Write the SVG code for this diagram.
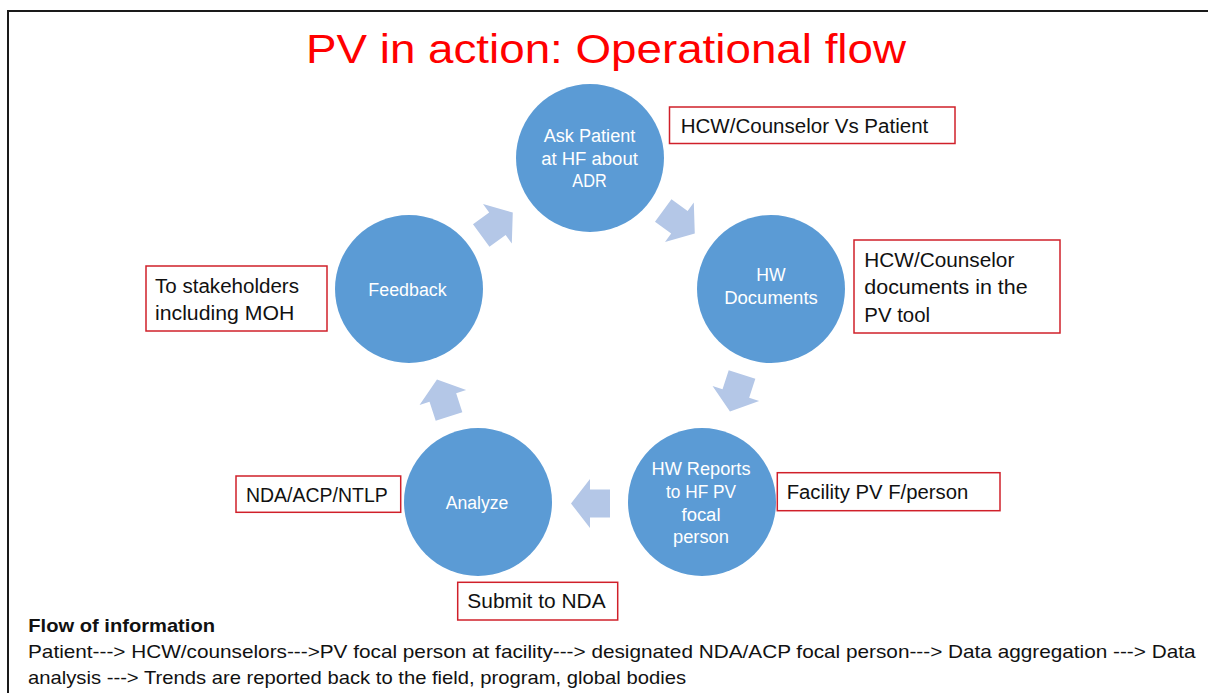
<svg xmlns="http://www.w3.org/2000/svg" xmlns:xlink="http://www.w3.org/1999/xlink" width="1208" height="693" viewBox="0 0 1208 693">
<style>
.node circle{fill:#5B9BD5}
.node text{fill:#FFFFFF;font-family:"Liberation Sans",Arial,sans-serif;font-size:18px;text-anchor:middle}
.box rect{fill:#FFFFFF;stroke:#D0202A;stroke-width:1.5}
.box text{fill:#111111;font-family:"Liberation Sans",Arial,sans-serif;font-size:20px}
.arr{fill:#B4C7E7}
.foot{fill:#111111;font-family:"Liberation Sans",Arial,sans-serif;font-size:19px}
</style>
<defs>
<polygon id="arrow" points="-19.5,-14 0.5,-14 0.5,-24.5 19.5,0 0.5,24.5 0.5,14 -19.5,14"/>
</defs>
<rect x="0" y="0" width="1208" height="693" fill="#FFFFFF"/>
<path d="M8 693 V11 H1208" fill="none" stroke="#1A1A1A" stroke-width="2"/>
<text id="title" x="306" y="63" textLength="600" lengthAdjust="spacingAndGlyphs" fill="#FF0000" font-family="Liberation Sans, Arial, sans-serif" font-size="40">PV in action: Operational flow</text>

<g id="connectors" class="arr">
<use xlink:href="#arrow" href="#arrow" transform="translate(497,224) rotate(-36)"/>
<use xlink:href="#arrow" href="#arrow" transform="translate(679,222) rotate(36)"/>
<use xlink:href="#arrow" href="#arrow" transform="translate(736,393) rotate(108)"/>
<use xlink:href="#arrow" href="#arrow" transform="translate(590.5,503.5) rotate(180)"/>
<use xlink:href="#arrow" href="#arrow" transform="translate(443,398) rotate(252)"/>
</g>

<g id="node-ask" class="node">
<circle cx="590" cy="158" r="74"/>
<text x="589.5" y="141.7" textLength="91.7" lengthAdjust="spacingAndGlyphs">Ask Patient</text>
<text x="589.5" y="164.5" textLength="96.7" lengthAdjust="spacingAndGlyphs">at HF about</text>
<text x="589.5" y="187.3" textLength="34.3" lengthAdjust="spacingAndGlyphs">ADR</text>
</g>
<g id="node-documents" class="node">
<circle cx="771" cy="289" r="74"/>
<text x="771" y="281" textLength="29.3" lengthAdjust="spacingAndGlyphs">HW</text>
<text x="771" y="304" textLength="93.7" lengthAdjust="spacingAndGlyphs">Documents</text>
</g>
<g id="node-reports" class="node">
<circle cx="702" cy="502" r="74"/>
<text x="701" y="475" textLength="99" lengthAdjust="spacingAndGlyphs">HW Reports</text>
<text x="701" y="497.5" textLength="70" lengthAdjust="spacingAndGlyphs">to HF PV</text>
<text x="701" y="520.5" textLength="39" lengthAdjust="spacingAndGlyphs">focal</text>
<text x="701" y="543" textLength="56" lengthAdjust="spacingAndGlyphs">person</text>
</g>
<g id="node-analyze" class="node">
<circle cx="478" cy="502" r="74"/>
<text x="477" y="509" textLength="62.7" lengthAdjust="spacingAndGlyphs">Analyze</text>
</g>
<g id="node-feedback" class="node">
<circle cx="409" cy="289" r="74"/>
<text x="407.5" y="295.7" textLength="78.3" lengthAdjust="spacingAndGlyphs">Feedback</text>
</g>

<g id="box-hcw-patient" class="box">
<rect x="669.5" y="107" width="285.5" height="36.5"/>
<text x="680.7" y="133.3" textLength="247.6" lengthAdjust="spacingAndGlyphs">HCW/Counselor Vs Patient</text>
</g>
<g id="box-hcw-documents" class="box">
<rect x="854" y="240" width="206" height="93"/>
<text x="864.3" y="266.7" textLength="150" lengthAdjust="spacingAndGlyphs">HCW/Counselor</text>
<text x="864.3" y="294" textLength="163.3" lengthAdjust="spacingAndGlyphs">documents in the</text>
<text x="864.3" y="321.7" textLength="65.7" lengthAdjust="spacingAndGlyphs">PV tool</text>
</g>
<g id="box-stakeholders" class="box">
<rect x="146" y="266" width="181" height="65"/>
<text x="155" y="292.7" textLength="144" lengthAdjust="spacingAndGlyphs">To stakeholders</text>
<text x="155" y="320" textLength="139.3" lengthAdjust="spacingAndGlyphs">including MOH</text>
</g>
<g id="box-nda-acp" class="box">
<rect x="236" y="476" width="164.7" height="36.3"/>
<text x="246" y="501.7" textLength="141.7" lengthAdjust="spacingAndGlyphs">NDA/ACP/NTLP</text>
</g>
<g id="box-facility" class="box">
<rect x="777.3" y="472.7" width="222.7" height="38"/>
<text x="786.7" y="499" textLength="181.6" lengthAdjust="spacingAndGlyphs">Facility PV F/person</text>
</g>
<g id="box-submit" class="box">
<rect x="457.7" y="582.3" width="160" height="37.7"/>
<text x="467.3" y="608.3" textLength="138.4" lengthAdjust="spacingAndGlyphs">Submit to NDA</text>
</g>

<g id="flow-text">
<text class="foot" x="28.3" y="632" font-weight="bold" textLength="186.7" lengthAdjust="spacingAndGlyphs">Flow of information</text>
<text class="foot" x="28" y="658" textLength="1167.5" lengthAdjust="spacingAndGlyphs">Patient---&gt; HCW/counselors---&gt;PV focal person at facility---&gt; designated NDA/ACP focal person---&gt; Data aggregation ---&gt; Data</text>
<text class="foot" x="28" y="684" textLength="658" lengthAdjust="spacingAndGlyphs">analysis ---&gt; Trends are reported back to the field, program, global bodies</text>
</g>
</svg>
